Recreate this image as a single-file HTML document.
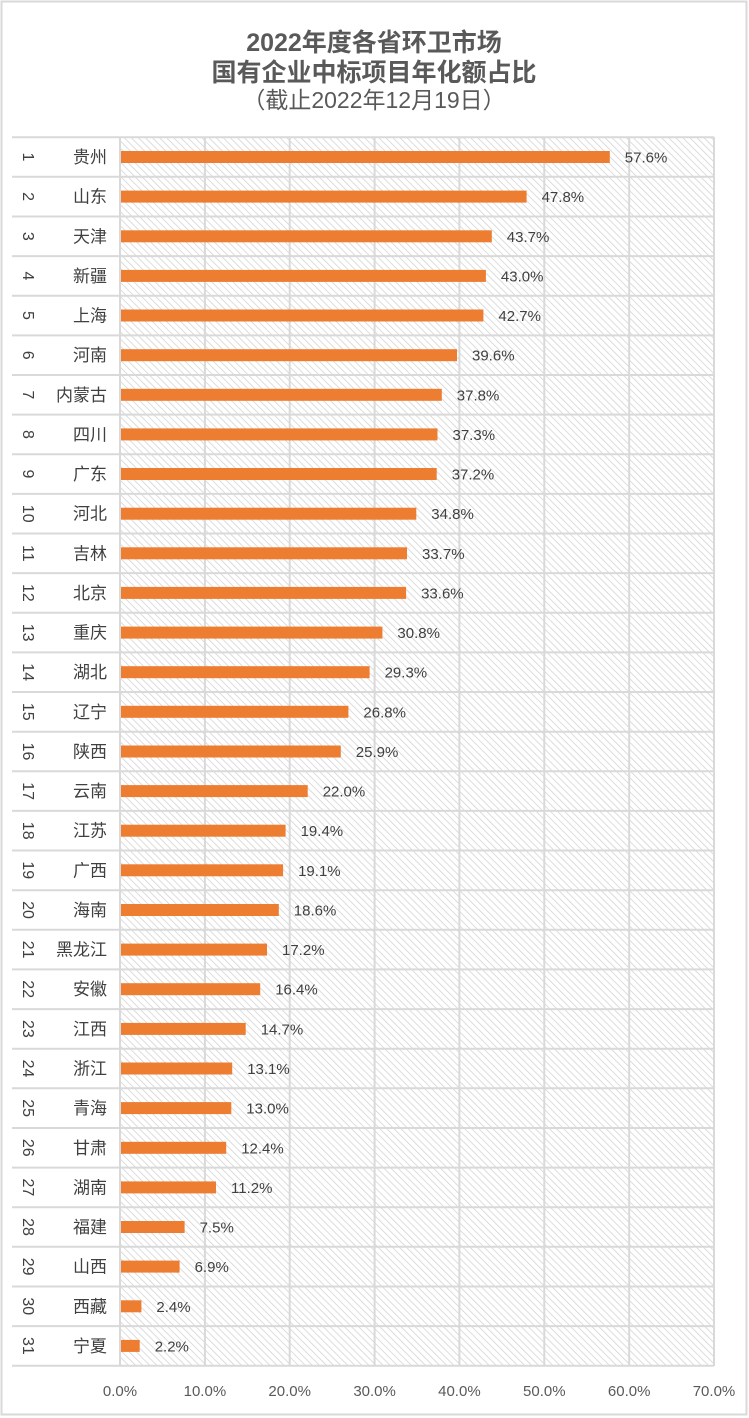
<!DOCTYPE html><html><head><meta charset="utf-8"><style>
html,body{margin:0;padding:0;background:#fff}
svg{display:block}
text{font-family:"Liberation Sans","Noto Sans CJK SC",sans-serif}
.n{font-size:16px;fill:#404040}
.p{font-size:17px;fill:#404040;text-anchor:end}
.v{font-size:15px;fill:#404040}
.a{font-size:15px;fill:#595959;text-anchor:middle}
</style></head><body>
<svg width="749" height="1418" viewBox="0 0 749 1418" xmlns="http://www.w3.org/2000/svg">
<defs><pattern id="h" width="5" height="5" patternUnits="userSpaceOnUse" patternTransform="rotate(-45)"><rect width="5" height="5" fill="#fff"/><line x1="0" y1="0" x2="0" y2="5" stroke="#d4d4d4" stroke-width="1.6"/></pattern></defs>
<rect x="1.5" y="1.5" width="745" height="1413" fill="#fff" stroke="#d9d9d9" stroke-width="2"/>
<text x="374" y="51" text-anchor="middle" style="font-size:25px;font-weight:bold;fill:#595959">2022年度各省环卫市场</text>
<text x="374" y="81" text-anchor="middle" style="font-size:25px;font-weight:bold;fill:#595959">国有企业中标项目年化额占比</text>
<text x="374" y="108" text-anchor="middle" style="font-size:23px;fill:#595959">（截止2022年12月19日）</text>
<rect x="120" y="137" width="594" height="1229" fill="url(#h)"/>
<g stroke="#d9d9d9" stroke-width="2">
<line x1="120" y1="137" x2="120" y2="1366"/><line x1="204.9" y1="137" x2="204.9" y2="1366"/><line x1="289.7" y1="137" x2="289.7" y2="1366"/><line x1="374.6" y1="137" x2="374.6" y2="1366"/><line x1="459.4" y1="137" x2="459.4" y2="1366"/><line x1="544.3" y1="137" x2="544.3" y2="1366"/><line x1="629.2" y1="137" x2="629.2" y2="1366"/><line x1="714" y1="137" x2="714" y2="1366"/>
</g>
<g stroke="#d9d9d9" stroke-width="2" id="rows">
<line x1="12" x2="714" y1="137.2" y2="137.2"/><line x1="12" x2="714" y1="176.8" y2="176.8"/><line x1="12" x2="714" y1="216.5" y2="216.5"/><line x1="12" x2="714" y1="256.1" y2="256.1"/><line x1="12" x2="714" y1="295.7" y2="295.7"/><line x1="12" x2="714" y1="335.4" y2="335.4"/><line x1="12" x2="714" y1="375" y2="375"/><line x1="12" x2="714" y1="414.6" y2="414.6"/><line x1="12" x2="714" y1="454.2" y2="454.2"/><line x1="12" x2="714" y1="493.9" y2="493.9"/><line x1="12" x2="714" y1="533.5" y2="533.5"/><line x1="12" x2="714" y1="573.1" y2="573.1"/><line x1="12" x2="714" y1="612.8" y2="612.8"/><line x1="12" x2="714" y1="652.4" y2="652.4"/><line x1="12" x2="714" y1="692" y2="692"/><line x1="12" x2="714" y1="731.7" y2="731.7"/><line x1="12" x2="714" y1="771.3" y2="771.3"/><line x1="12" x2="714" y1="810.9" y2="810.9"/><line x1="12" x2="714" y1="850.5" y2="850.5"/><line x1="12" x2="714" y1="890.2" y2="890.2"/><line x1="12" x2="714" y1="929.8" y2="929.8"/><line x1="12" x2="714" y1="969.4" y2="969.4"/><line x1="12" x2="714" y1="1009.1" y2="1009.1"/><line x1="12" x2="714" y1="1048.7" y2="1048.7"/><line x1="12" x2="714" y1="1088.3" y2="1088.3"/><line x1="12" x2="714" y1="1128" y2="1128"/><line x1="12" x2="714" y1="1167.6" y2="1167.6"/><line x1="12" x2="714" y1="1207.2" y2="1207.2"/><line x1="12" x2="714" y1="1246.8" y2="1246.8"/><line x1="12" x2="714" y1="1286.5" y2="1286.5"/><line x1="12" x2="714" y1="1326.1" y2="1326.1"/><line x1="12" x2="714" y1="1365.7" y2="1365.7"/>
</g>
<g fill="#ed7d31">
<rect x="121" y="151" width="488.8" height="12"/><rect x="121" y="190.6" width="405.6" height="12"/><rect x="121" y="230.3" width="370.8" height="12"/><rect x="121" y="269.9" width="364.9" height="12"/><rect x="121" y="309.5" width="362.4" height="12"/><rect x="121" y="349.2" width="336" height="12"/><rect x="121" y="388.8" width="320.8" height="12"/><rect x="121" y="428.4" width="316.5" height="12"/><rect x="121" y="468" width="315.7" height="12"/><rect x="121" y="507.7" width="295.3" height="12"/><rect x="121" y="547.3" width="286" height="12"/><rect x="121" y="586.9" width="285.1" height="12"/><rect x="121" y="626.6" width="261.4" height="12"/><rect x="121" y="666.2" width="248.6" height="12"/><rect x="121" y="705.8" width="227.4" height="12"/><rect x="121" y="745.5" width="219.8" height="12"/><rect x="121" y="785.1" width="186.7" height="12"/><rect x="121" y="824.7" width="164.6" height="12"/><rect x="121" y="864.3" width="162.1" height="12"/><rect x="121" y="904" width="157.8" height="12"/><rect x="121" y="943.6" width="146" height="12"/><rect x="121" y="983.2" width="139.2" height="12"/><rect x="121" y="1022.9" width="124.7" height="12"/><rect x="121" y="1062.5" width="111.2" height="12"/><rect x="121" y="1102.1" width="110.3" height="12"/><rect x="121" y="1141.8" width="105.2" height="12"/><rect x="121" y="1181.4" width="95" height="12"/><rect x="121" y="1221" width="63.6" height="12"/><rect x="121" y="1260.6" width="58.6" height="12"/><rect x="121" y="1300.3" width="20.4" height="12"/><rect x="121" y="1339.9" width="18.7" height="12"/>
</g>
<g class="vv">
<text class="v" x="624.8" y="162.5">57.6%</text><text class="v" x="541.6" y="202.1">47.8%</text><text class="v" x="506.8" y="241.8">43.7%</text><text class="v" x="500.9" y="281.4">43.0%</text><text class="v" x="498.4" y="321">42.7%</text><text class="v" x="472" y="360.7">39.6%</text><text class="v" x="456.8" y="400.3">37.8%</text><text class="v" x="452.5" y="439.9">37.3%</text><text class="v" x="451.7" y="479.5">37.2%</text><text class="v" x="431.3" y="519.2">34.8%</text><text class="v" x="422" y="558.8">33.7%</text><text class="v" x="421.1" y="598.4">33.6%</text><text class="v" x="397.4" y="638.1">30.8%</text><text class="v" x="384.6" y="677.7">29.3%</text><text class="v" x="363.4" y="717.3">26.8%</text><text class="v" x="355.8" y="757">25.9%</text><text class="v" x="322.7" y="796.6">22.0%</text><text class="v" x="300.6" y="836.2">19.4%</text><text class="v" x="298.1" y="875.8">19.1%</text><text class="v" x="293.8" y="915.5">18.6%</text><text class="v" x="282" y="955.1">17.2%</text><text class="v" x="275.2" y="994.7">16.4%</text><text class="v" x="260.7" y="1034.4">14.7%</text><text class="v" x="247.2" y="1074">13.1%</text><text class="v" x="246.3" y="1113.6">13.0%</text><text class="v" x="241.2" y="1153.3">12.4%</text><text class="v" x="231" y="1192.9">11.2%</text><text class="v" x="199.6" y="1232.5">7.5%</text><text class="v" x="194.6" y="1272.1">6.9%</text><text class="v" x="156.4" y="1311.8">2.4%</text><text class="v" x="154.7" y="1351.4">2.2%</text>
</g>
<g>
<text class="p" x="107" y="163">贵州</text><text class="p" x="107" y="202.6">山东</text><text class="p" x="107" y="242.3">天津</text><text class="p" x="107" y="281.9">新疆</text><text class="p" x="107" y="321.5">上海</text><text class="p" x="107" y="361.2">河南</text><text class="p" x="107" y="400.8">内蒙古</text><text class="p" x="107" y="440.4">四川</text><text class="p" x="107" y="480">广东</text><text class="p" x="107" y="519.7">河北</text><text class="p" x="107" y="559.3">吉林</text><text class="p" x="107" y="598.9">北京</text><text class="p" x="107" y="638.6">重庆</text><text class="p" x="107" y="678.2">湖北</text><text class="p" x="107" y="717.8">辽宁</text><text class="p" x="107" y="757.5">陕西</text><text class="p" x="107" y="797.1">云南</text><text class="p" x="107" y="836.7">江苏</text><text class="p" x="107" y="876.3">广西</text><text class="p" x="107" y="916">海南</text><text class="p" x="107" y="955.6">黑龙江</text><text class="p" x="107" y="995.2">安徽</text><text class="p" x="107" y="1034.9">江西</text><text class="p" x="107" y="1074.5">浙江</text><text class="p" x="107" y="1114.1">青海</text><text class="p" x="107" y="1153.8">甘肃</text><text class="p" x="107" y="1193.4">湖南</text><text class="p" x="107" y="1233">福建</text><text class="p" x="107" y="1272.6">山西</text><text class="p" x="107" y="1312.3">西藏</text><text class="p" x="107" y="1351.9">宁夏</text>
</g>
<g text-anchor="middle">
<text class="n" transform="translate(23,157) rotate(90)">1</text><text class="n" transform="translate(23,196.6) rotate(90)">2</text><text class="n" transform="translate(23,236.3) rotate(90)">3</text><text class="n" transform="translate(23,275.9) rotate(90)">4</text><text class="n" transform="translate(23,315.5) rotate(90)">5</text><text class="n" transform="translate(23,355.2) rotate(90)">6</text><text class="n" transform="translate(23,394.8) rotate(90)">7</text><text class="n" transform="translate(23,434.4) rotate(90)">8</text><text class="n" transform="translate(23,474) rotate(90)">9</text><text class="n" transform="translate(23,513.7) rotate(90)">10</text><text class="n" transform="translate(23,553.3) rotate(90)">11</text><text class="n" transform="translate(23,592.9) rotate(90)">12</text><text class="n" transform="translate(23,632.6) rotate(90)">13</text><text class="n" transform="translate(23,672.2) rotate(90)">14</text><text class="n" transform="translate(23,711.8) rotate(90)">15</text><text class="n" transform="translate(23,751.5) rotate(90)">16</text><text class="n" transform="translate(23,791.1) rotate(90)">17</text><text class="n" transform="translate(23,830.7) rotate(90)">18</text><text class="n" transform="translate(23,870.3) rotate(90)">19</text><text class="n" transform="translate(23,910) rotate(90)">20</text><text class="n" transform="translate(23,949.6) rotate(90)">21</text><text class="n" transform="translate(23,989.2) rotate(90)">22</text><text class="n" transform="translate(23,1028.9) rotate(90)">23</text><text class="n" transform="translate(23,1068.5) rotate(90)">24</text><text class="n" transform="translate(23,1108.1) rotate(90)">25</text><text class="n" transform="translate(23,1147.8) rotate(90)">26</text><text class="n" transform="translate(23,1187.4) rotate(90)">27</text><text class="n" transform="translate(23,1227) rotate(90)">28</text><text class="n" transform="translate(23,1266.6) rotate(90)">29</text><text class="n" transform="translate(23,1306.3) rotate(90)">30</text><text class="n" transform="translate(23,1345.9) rotate(90)">31</text>
</g>
<g>
<text class="a" x="120" y="1396">0.0%</text><text class="a" x="204.9" y="1396">10.0%</text><text class="a" x="289.7" y="1396">20.0%</text><text class="a" x="374.6" y="1396">30.0%</text><text class="a" x="459.4" y="1396">40.0%</text><text class="a" x="544.3" y="1396">50.0%</text><text class="a" x="629.2" y="1396">60.0%</text><text class="a" x="714" y="1396">70.0%</text>
</g>
</svg>
</body></html>
